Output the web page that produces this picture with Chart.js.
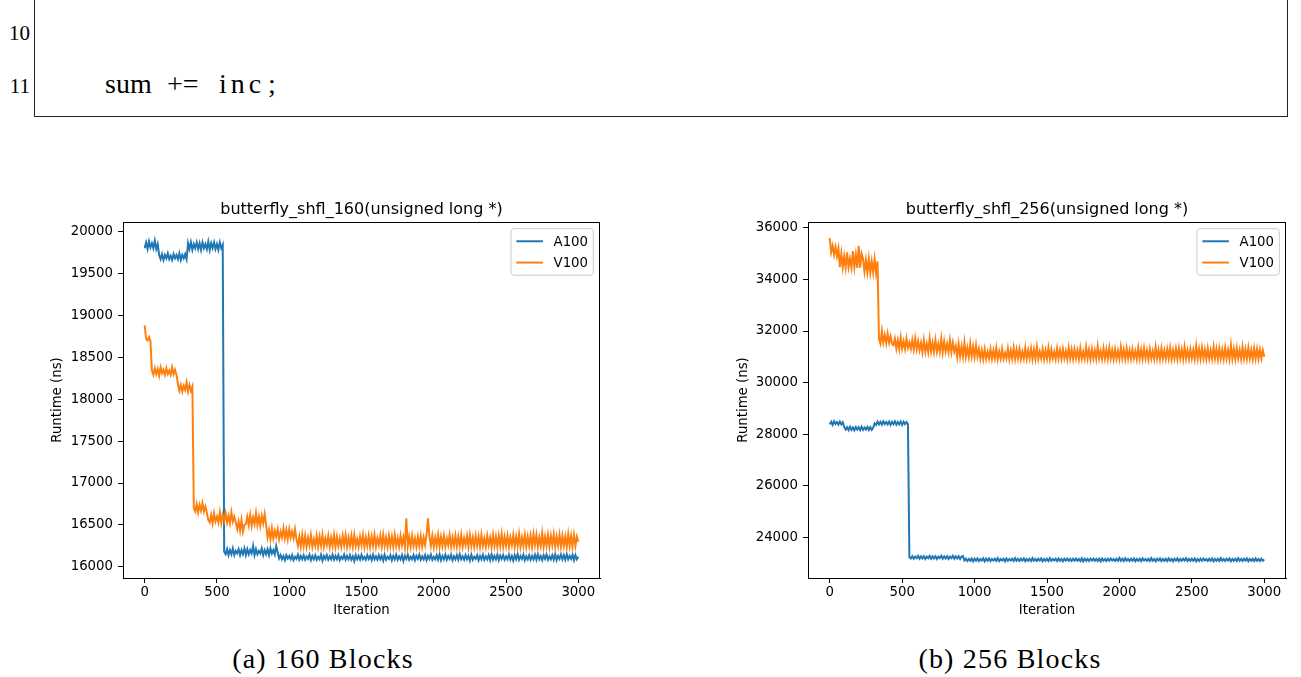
<!DOCTYPE html>
<html>
<head>
<meta charset="utf-8">
<script src="https://cdn.jsdelivr.net/npm/chart.js@4.4.0/dist/chart.umd.min.js"></script>
<style>
  html, body { margin: 0; padding: 0; background: #fff; }
  body { width: 1301px; height: 677px; position: relative; overflow: hidden; }
  #code { position: absolute; left: 34px; top: -5px; width: 1252px; height: 121px;
          border: 1px solid #222; border-top: none; border-bottom-width: 1.5px; }
  .ln, .src, .cap { position: absolute; font-family: "Liberation Serif", "DejaVu Serif", serif; color: #000; line-height: 1; white-space: pre; }
  .ln { font-size: 21px; right: 1271px; }
  .src { font-size: 28px; top: 70px; }
  .cap { font-size: 28px; letter-spacing: 1.2px; transform: translateX(-50%); }
  canvas { position: absolute; top: 190px; }
</style>
</head>
<body>
<div id="code"></div>
<div class="ln" style="top:23px">10</div>
<div class="ln" style="top:76px">11</div>
<div class="src" style="left:105px">sum</div>
<div class="src" style="left:167px">+=</div>
<div class="src" style="left:219px;letter-spacing:4px">inc</div>
<div class="src" style="left:268px">;</div>

<canvas id="c160" width="650" height="440" style="left:0px"></canvas>
<canvas id="c256" width="651" height="440" style="left:650px"></canvas>

<div class="cap" style="left:323px;top:645px">(a) 160 Blocks</div>
<div class="cap" style="left:1010px;top:645px">(b) 256 Blocks</div>

<script>
// sample grid: every 10th iteration, 0..3000
var iterations = Array.from({length: 301}, function(_, i){ return i * 10; });
var xTicks = [0, 500, 1000, 1500, 2000, 2500, 3000];
var yTicks160 = [16000, 16500, 17000, 17500, 18000, 18500, 19000, 19500, 20000];
var yTicks256 = [24000, 26000, 28000, 30000, 32000, 34000, 36000];

// runtime (ns), butterfly_shfl_160, one row = 100 iterations
var a100_160 = [
  19800,19870,19790,19880,19810,19860,19800,19890,19790,19850,
  19720,19670,19730,19660,19720,19680,19740,19670,19710,19660,
  19730,19680,19720,19670,19740,19660,19720,19680,19730,19670,
  19860,19790,19870,19780,19850,19800,19870,19790,19860,19780,
  19870,19800,19850,19790,19880,19780,19860,19800,19870,19790,
  19850,19780,19870,19800,19840,16180,16150,16210,16140,16200,
  16150,16220,16140,16190,16160,16210,16140,16200,16150,16220,
  16140,16210,16150,16200,16160,16250,16140,16210,16150,16190,
  16160,16220,16140,16200,16150,16210,16140,16220,16160,16200,
  16150,16250,16170,16100,16140,16090,16130,16080,16140,16100,
  16130,16090,16140,16080,16120,16095,16145,16085,16130,16090,
  16140,16085,16125,16095,16145,16080,16130,16090,16140,16085,
  16120,16090,16145,16075,16130,16095,16140,16085,16125,16090,
  16145,16085,16130,16090,16140,16080,16120,16095,16145,16085,
  16130,16090,16140,16085,16125,16070,16140,16090,16130,16085,
  16145,16090,16120,16085,16140,16095,16130,16080,16145,16090,
  16125,16085,16140,16090,16130,16075,16145,16085,16120,16095,
  16140,16080,16130,16090,16145,16085,16125,16090,16140,16070,
  16130,16095,16145,16085,16120,16090,16140,16080,16130,16095,
  16145,16085,16125,16090,16140,16080,16130,16095,16145,16085,
  16120,16090,16140,16085,16150,16080,16130,16090,16145,16085,
  16130,16095,16145,16080,16125,16090,16140,16085,16150,16090,
  16125,16085,16140,16090,16130,16075,16145,16085,16120,16095,
  16140,16080,16130,16090,16145,16085,16125,16090,16140,16080,
  16150,16085,16130,16090,16145,16080,16135,16095,16140,16085,
  16125,16090,16145,16085,16130,16075,16140,16090,16150,16085,
  16130,16095,16145,16080,16125,16090,16140,16085,16130,16090,
  16145,16085,16150,16090,16130,16080,16140,16095,16145,16085,
  16125,16090,16140,16085,16150,16080,16130,16095,16145,16090,
  16140,16085,16150,16090,16130,16095,16145,16080,16140,16090,
  16120
];
var v100_160 = [
  18880,18720,18700,18740,18690,18340,18290,18370,18300,18360,
  18280,18380,18310,18350,18290,18370,18300,18340,18290,18380,
  18300,18350,18290,18180,18100,18170,18090,18160,18110,18200,
  18090,18170,18100,18150,16700,16660,16750,16650,16740,16670,
  16760,16660,16720,16650,16560,16530,16620,16520,16640,16540,
  16600,16530,16650,16520,16620,16550,16640,16530,16610,16520,
  16650,16540,16600,16530,16450,16540,16430,16560,16420,16500,
  16510,16600,16500,16620,16490,16590,16510,16640,16500,16600,
  16490,16610,16520,16630,16500,16350,16440,16330,16460,16340,
  16430,16360,16450,16330,16420,16350,16460,16340,16440,16330,
  16450,16350,16420,16340,16450,16330,16250,16360,16240,16380,
  16250,16370,16240,16350,16260,16380,16240,16330,16250,16370,
  16240,16360,16250,16380,16240,16340,16260,16370,16240,16350,
  16250,16380,16240,16360,16250,16340,16240,16370,16260,16380,
  16240,16350,16250,16370,16240,16380,16250,16330,16240,16360,
  16260,16380,16240,16350,16250,16370,16240,16360,16250,16380,
  16240,16340,16260,16370,16240,16380,16250,16350,16240,16370,
  16250,16360,16240,16380,16250,16340,16240,16370,16260,16350,
  16240,16580,16250,16360,16240,16370,16250,16340,16240,16360,
  16250,16370,16240,16350,16260,16380,16580,16360,16250,16370,
  16240,16350,16250,16380,16240,16360,16250,16370,16240,16340,
  16260,16380,16240,16350,16250,16370,16240,16360,16250,16380,
  16240,16340,16260,16370,16240,16380,16250,16350,16240,16370,
  16250,16360,16240,16380,16250,16340,16240,16370,16260,16350,
  16240,16380,16250,16360,16240,16370,16250,16390,16240,16360,
  16250,16370,16240,16350,16260,16380,16240,16360,16250,16390,
  16240,16350,16250,16380,16240,16360,16250,16370,16240,16390,
  16260,16380,16240,16350,16250,16400,16240,16360,16250,16380,
  16240,16370,16260,16390,16240,16360,16250,16380,16240,16370,
  16250,16360,16240,16390,16250,16370,16240,16380,16250,16360,
  16300
];

// runtime (ns), butterfly_shfl_256
var a100_256 = [
  28380,28480,28360,28500,28390,28470,28370,28490,28380,28460,
  28280,28180,28270,28160,28290,28170,28260,28150,28280,28180,
  28270,28160,28290,28170,28260,28180,28280,28160,28270,28170,
  28250,28420,28360,28490,28380,28480,28370,28500,28390,28470,
  28380,28490,28360,28480,28390,28500,28370,28470,28380,28490,
  28360,28480,28390,28470,28380,23230,23180,23270,23170,23250,
  23190,23280,23170,23260,23180,23270,23160,23250,23190,23280,
  23170,23260,23180,23270,23160,23250,23190,23280,23170,23260,
  23180,23270,23160,23250,23190,23280,23170,23260,23180,23270,
  23160,23250,23270,23100,23170,23080,23160,23090,23180,23070,
  23170,23090,23180,23080,23160,23100,23190,23070,23170,23090,
  23180,23080,23160,23100,23170,23090,23190,23080,23160,23100,
  23170,23070,23180,23090,23160,23100,23170,23080,23190,23090,
  23160,23080,23170,23100,23180,23070,23160,23090,23170,23080,
  23190,23090,23160,23080,23170,23100,23180,23070,23160,23090,
  23170,23080,23190,23090,23160,23100,23170,23080,23180,23090,
  23160,23070,23170,23100,23180,23090,23160,23080,23170,23100,
  23180,23090,23160,23080,23190,23070,23170,23090,23160,23080,
  23170,23100,23180,23090,23160,23080,23170,23070,23180,23090,
  23160,23080,23170,23090,23180,23100,23160,23080,23170,23090,
  23200,23090,23170,23080,23190,23100,23160,23080,23170,23090,
  23180,23070,23160,23090,23170,23080,23180,23100,23160,23090,
  23170,23080,23190,23090,23160,23070,23170,23100,23180,23080,
  23160,23090,23170,23080,23180,23090,23160,23070,23170,23100,
  23180,23080,23160,23090,23170,23100,23190,23080,23160,23090,
  23170,23090,23180,23070,23160,23080,23170,23090,23180,23100,
  23160,23080,23170,23090,23180,23070,23160,23090,23170,23080,
  23190,23090,23160,23080,23170,23100,23180,23070,23160,23090,
  23170,23080,23190,23090,23160,23080,23170,23100,23180,23070,
  23160,23090,23170,23080,23180,23090,23160,23080,23170,23090,
  23140
];
var v100_256 = [
  35600,35050,35300,34950,35250,34900,35200,34480,35000,34460,
  34900,34450,35050,34480,34800,34450,35100,34470,34950,34450,
  35300,34460,35000,34800,34300,34750,34280,34800,34260,34700,
  34270,34800,34250,34700,31700,31520,32000,31550,31850,31520,
  31900,31550,31800,31500,31450,31700,31320,31650,31300,31750,
  31320,31600,31300,31700,31350,31550,31300,31650,31280,31720,
  31300,31600,31260,31550,31180,31650,31200,31500,31180,31700,
  31200,31550,31180,31650,31200,31500,31190,31700,31180,31600,
  31200,31500,31180,31650,31190,31550,31200,31420,31000,31500,
  31020,31400,31000,31550,31010,31350,31000,31500,31020,31400,
  31000,31450,31010,31300,30920,31250,30910,31300,30920,31200,
  30930,31300,30920,31250,30940,31350,30910,31200,30930,31300,
  30920,31150,30940,31320,30910,31250,30930,31350,30920,31280,
  30940,31300,30910,31200,30930,31350,30920,31250,30940,31320,
  30910,31280,30930,31380,30920,31200,30940,31300,30910,31250,
  30930,31350,30920,31280,30940,31200,30910,31330,30930,31260,
  30920,31300,30940,31220,30910,31350,30930,31280,30920,31300,
  30940,31250,30910,31330,30930,31200,30920,31370,30940,31280,
  30910,31300,30930,31250,30920,31400,30940,31220,30910,31330,
  30930,31280,30920,31350,30940,31260,30910,31300,30930,31230,
  30920,31380,30940,31270,30910,31330,30930,31250,30920,31300,
  30940,31220,30910,31350,30930,31280,30920,31330,30940,31250,
  30910,31300,30930,31220,30920,31380,30940,31270,30910,31330,
  30930,31250,30920,31300,30940,31350,30910,31260,30930,31320,
  30920,31330,30940,31280,30910,31380,30930,31250,30920,31300,
  30940,31260,30910,31420,30930,31300,30920,31350,30940,31280,
  30910,31320,30930,31250,30920,31380,30940,31300,30910,31330,
  30930,31280,30920,31350,30940,31270,30910,31450,30930,31300,
  30920,31330,30940,31260,30910,31380,30930,31290,30920,31350,
  30940,31270,30910,31320,30930,31300,30920,31280,30940,31250,
  31000
];

var FONT = '"DejaVu Sans", sans-serif';
var FS = 13.3;
var BLUE = '#1f77b4', ORANGE = '#ff7f0e';

function pts(ys){
  return ys.map(function(y, i){ return {x: iterations[i], y: y}; });
}
function plain(v){ return String(v); }

// matplotlib-style frame + legend inside the axes
var mplFrame = {
  id: 'mplFrame',
  afterDraw: function(chart){
    var ctx = chart.ctx, a = chart.chartArea;
    ctx.save();
    ctx.strokeStyle = '#000';
    ctx.lineWidth = 1;
    ctx.strokeRect(Math.round(a.left) + 0.5, Math.round(a.top) + 0.5,
                   Math.round(a.right - a.left) - 1, Math.round(a.bottom - a.top));
    var fs = FS, ds = chart.data.datasets;
    ctx.font = fs + 'px ' + FONT;
    var tw = 0;
    ds.forEach(function(d){ tw = Math.max(tw, ctx.measureText(d.label).width); });
    var pad = 0.4 * fs, hl = 2 * fs, hp = 0.8 * fs, row = fs * 1.1, sp = 0.5 * fs;
    var w = pad * 2 + hl + hp + tw;
    var h = pad * 2 + row * ds.length + sp * (ds.length - 1);
    var x = a.right - 0.5 * fs - w, y = a.top + 0.5 * fs;
    ctx.fillStyle = 'rgba(255,255,255,0.8)';
    ctx.strokeStyle = '#cccccc';
    ctx.beginPath();
    ctx.roundRect(x, y, w, h, 3);
    ctx.fill();
    ctx.stroke();
    ctx.textBaseline = 'middle';
    ctx.textAlign = 'left';
    ds.forEach(function(d, i){
      var cy = y + pad + row / 2 + i * (row + sp);
      ctx.strokeStyle = d.borderColor;
      ctx.lineWidth = 2;
      ctx.beginPath();
      ctx.moveTo(x + pad, cy);
      ctx.lineTo(x + pad + hl, cy);
      ctx.stroke();
      ctx.fillStyle = '#000';
      ctx.fillText(d.label, x + pad + hl + hp, cy + 1);
    });
    ctx.restore();
  }
};

function makeChart(id, title, a100, v100, yMin, yMax, yTicks, padLeft, yWidth, padRight){
  return new Chart(document.getElementById(id), {
    type: 'line',
    data: {
      datasets: [
        {label: 'A100', data: pts(a100), borderColor: BLUE, borderWidth: 2, pointRadius: 0, order: 1},
        {label: 'V100', data: pts(v100), borderColor: ORANGE, borderWidth: 2, pointRadius: 0, order: 0}
      ]
    },
    options: {
      responsive: false,
      devicePixelRatio: 1,
      animation: false,
      events: [],
      layout: {padding: {left: padLeft, right: padRight, top: 0, bottom: 10}},
      plugins: {
        legend: {display: false},
        tooltip: {enabled: false},
        title: {display: true, fullSize: false, text: title, color: '#000',
                font: {family: FONT, size: 16, weight: 'normal'},
                padding: {top: 10, bottom: 2.8}}
      },
      scales: {
        x: {
          type: 'linear', min: -150, max: 3150,
          afterBuildTicks: function(s){ s.ticks = xTicks.map(function(v){ return {value: v}; }); },
          afterFit: function(s){ s.height = 42; },
          grid: {drawOnChartArea: false, drawTicks: true, tickLength: 5, color: '#000'},
          border: {color: '#000'},
          ticks: {color: '#000', font: {family: FONT, size: FS}, padding: 2, autoSkip: false, maxRotation: 0, callback: plain},
          title: {display: true, text: 'Iteration', color: '#000', font: {family: FONT, size: FS}, padding: {top: 0, bottom: 1}}
        },
        y: {
          type: 'linear', min: yMin, max: yMax,
          afterBuildTicks: function(s){ s.ticks = yTicks.map(function(v){ return {value: v}; }); },
          afterFit: function(s){ s.width = yWidth; },
          grid: {drawOnChartArea: false, drawTicks: true, tickLength: 5, color: '#000'},
          border: {color: '#000'},
          ticks: {color: '#000', font: {family: FONT, size: FS}, padding: 5, callback: plain},
          title: {display: true, text: 'Runtime (ns)', color: '#000', font: {family: FONT, size: FS}, padding: 0}
        }
      }
    },
    plugins: [mplFrame]
  });
}

makeChart('c160', 'butterfly_shfl_160(unsigned long *)', a100_160, v100_160, 15867, 20113, yTicks160, 50, 73, 50);
makeChart('c256', 'butterfly_shfl_256(unsigned long *)', a100_256, v100_256, 22423, 36227, yTicks256, 86, 72, 15);
</script>
</body>
</html>
